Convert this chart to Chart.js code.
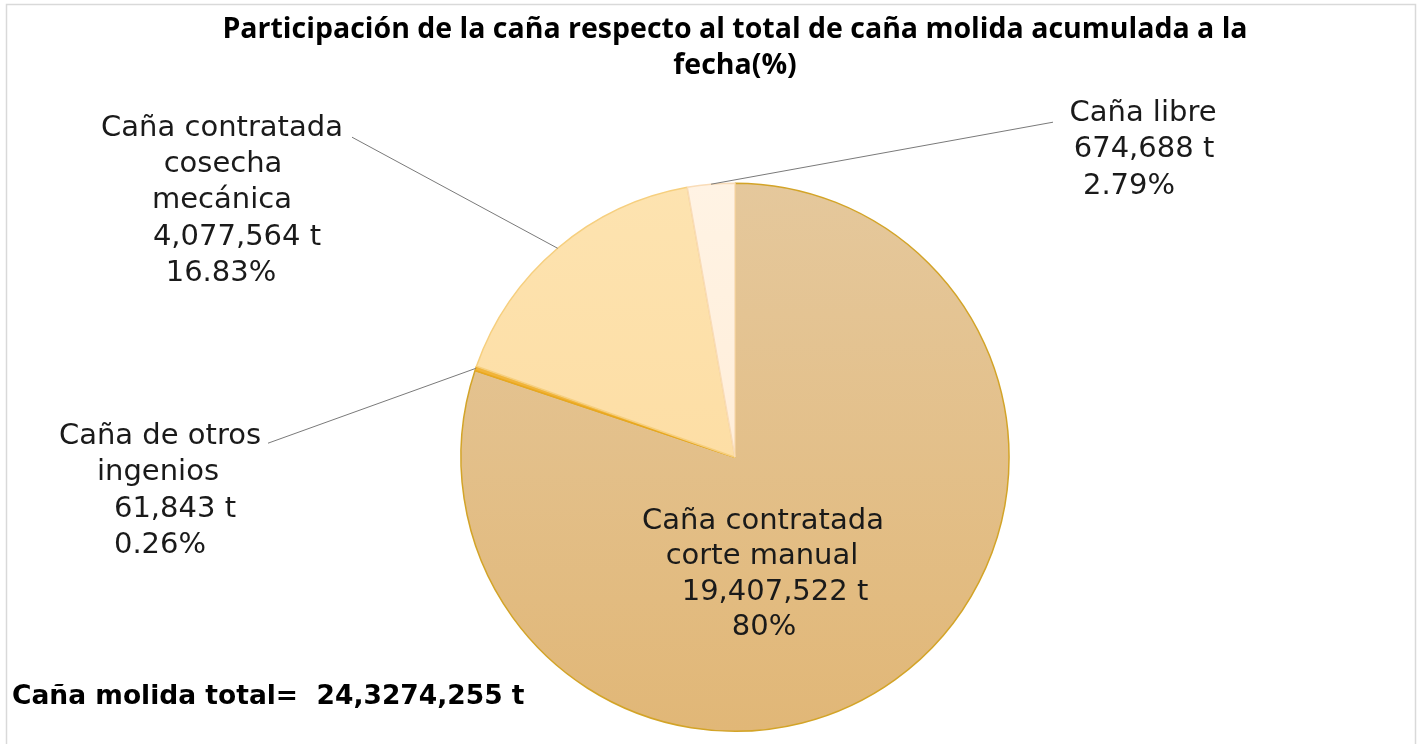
<!DOCTYPE html>
<html>
<head>
<meta charset="utf-8">
<script src="https://cdn.jsdelivr.net/npm/chart.js@4"></script>
<style>
  html, body { margin: 0; padding: 0; background: #fff; }
  #wrap { position: relative; width: 1421px; height: 744px; }
</style>
</head>
<body>
<div id="wrap"><canvas id="myChart" width="1421" height="744"></canvas></div>
<script>
// datos del grafico
const categorias = ['Caña contratada corte manual', 'Caña de otros ingenios', 'Caña contratada cosecha mecánica', 'Caña libre'];
const toneladas = [19407522, 61843, 4077564, 674688];
const toneladasTexto = ['19,407,522', '61,843', '4,077,564', '674,688'];
const porcentajes = ['80%', '0.26%', '16.83%', '2.79%'];
const nombreLineas = [
  ['Caña contratada', 'corte manual'],
  ['Caña de otros', 'ingenios'],
  ['Caña contratada', 'cosecha', 'mecánica'],
  ['Caña libre']
];
const titulo = ['Participación de la caña respecto al total de caña molida acumulada a la', 'fecha(%)'];
const totalTexto = 'Caña molida total=  24,3274,255 t';

const colores = ['#e3c08c', '#f1b43a', '#fddfa7', '#fff0df'];

// donde va cada etiqueta (desplazamiento desde el centro del pie, px)
// x: centro del bloque, y: primera linea, dx: ajuste por linea, lead: punto del conector
const etiquetas = [
  { x: 28, y: 64, lh: 35.5, dx: [0, -1, 12, 1], lead: null },
  { x: -575, y: -21, lh: 36.5, dx: [0, -2, 15, 0], lead: [-467, -14] },
  { x: -513, y: -329, lh: 36.3, dx: [0, 1, 0, 15, -1], lead: [-383, -320] },
  { x: 408, y: -344, lh: 36.5, dx: [0, 1, -14], lead: [318, -335] }
];

const fuente = "'DejaVu Sans', sans-serif";

const marco = {
  id: 'marco',
  beforeDraw(chart) {
    const c = chart.ctx;
    c.save();
    c.fillStyle = '#fff';
    c.fillRect(0, 0, chart.width, chart.height);
    c.strokeStyle = '#d9d9d9';
    c.lineWidth = 1.5;
    c.strokeRect(6.5, 4.5, 1409, 800);
    c.restore();
  }
};

const etiquetasPie = {
  id: 'etiquetasPie',
  afterDraw(chart) {
    const c = chart.ctx;
    const arcs = chart.getDatasetMeta(0).data;
    c.save();
    arcs.forEach((arc, i) => {
      const e = etiquetas[i];
      const cx = arc.x, cy = arc.y;
      const mid = (arc.startAngle + arc.endAngle) / 2;
      const lineas = nombreLineas[i].concat([toneladasTexto[i] + ' t', porcentajes[i]]);
      if (e.lead) {
        c.strokeStyle = '#7a7a7a';
        c.lineWidth = 1;
        c.beginPath();
        c.moveTo(cx + Math.cos(mid) * arc.outerRadius, cy + Math.sin(mid) * arc.outerRadius);
        c.lineTo(cx + e.lead[0], cy + e.lead[1]);
        c.stroke();
      }
      c.fillStyle = '#1a1a1a';
      c.font = '400 29px ' + fuente;
      c.textAlign = 'center';
      c.textBaseline = 'middle';
      lineas.forEach((t, j) => {
        c.fillText(t, cx + e.x + (e.dx[j] || 0), cy + e.y + j * e.lh);
      });
    });
    c.font = 'bold 26.5px ' + fuente;
    c.textAlign = 'left';
    c.fillStyle = '#000';
    c.fillText(totalTexto, 12, 697);
    c.restore();
  }
};

const ctx = document.getElementById('myChart');

new Chart(ctx, {
  type: 'pie',
  data: {
    labels: categorias,
    datasets: [{
      data: toneladas,
      backgroundColor: (context) => {
        const chart = context.chart;
        const area = chart.chartArea;
        if (!area) return colores[context.dataIndex];
        const g = chart.ctx.createLinearGradient(0, area.top, 0, area.bottom);
        if (context.dataIndex === 0) {
          g.addColorStop(0, '#e5c89c');
          g.addColorStop(1, '#e1b777');
        } else if (context.dataIndex === 2) {
          g.addColorStop(0, '#fde3b0');
          g.addColorStop(1, '#fdd99a');
        } else if (context.dataIndex === 3) {
          g.addColorStop(0, '#fff3e4');
          g.addColorStop(1, '#ffe9d0');
        } else {
          return colores[context.dataIndex];
        }
        return g;
      },
      borderColor: ['#d3a428', '#e9a81f', '#f6cf7e', '#f9dcb8'],
      borderWidth: 1.5,
      hoverOffset: 0
    }]
  },
  options: {
    responsive: false,
    animation: false,
    layout: { padding: { left: 49, bottom: 12 } },
    plugins: {
      legend: { display: false },
      tooltip: { enabled: false },
      title: {
        display: true,
        text: titulo,
        color: '#000',
        font: { family: "'Open Sans', sans-serif", size: 28.5, weight: 'bold', lineHeight: 1.27 },
        padding: { top: 12, bottom: 98 }
      }
    }
  },
  plugins: [marco, etiquetasPie]
});
</script>
</body>
</html>
